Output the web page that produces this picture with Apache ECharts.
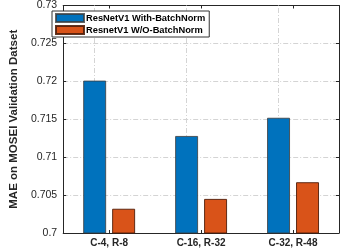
<!DOCTYPE html>
<html><head><meta charset="utf-8">
<script src="https://cdn.jsdelivr.net/npm/echarts@6/dist/echarts.min.js"></script>
<style>html,body{margin:0;padding:0;background:#fff}#c{width:341px;height:250px}</style>
</head><body><div id="c"></div>
<script>
var categories = ['C-4, R-8', 'C-16, R-32', 'C-32, R-48'];
var withBN = [0.7201, 0.7128, 0.7152];
var withoutBN = [0.7032, 0.7045, 0.7067];
var seriesNames = ['ResNetV1 With-BatchNorm', 'ResnetV1 W/O-BatchNorm'];
var yTicks = ['0.7', '0.705', '0.71', '0.715', '0.72', '0.725', '0.73'];
var yMin = 0.7, yMax = 0.73, yStep = 0.005;

var FONT = 'Liberation Sans';
var gridDash = {color: '#d4d4d4', width: 1, type: [5, 2, 1, 2]};
var chart = echarts.init(document.getElementById('c'), null, {renderer: 'canvas'});
chart.setOption({
  animation: false,
  textStyle: {fontFamily: FONT},
  grid: {left: 45, right: 2, top: 4, bottom: 17},
  legend: {
    orient: 'vertical', left: 52, top: 11,
    itemWidth: 28, itemHeight: 8, itemGap: 2,
    padding: [2, 4, 2, 3],
    backgroundColor: '#fff', borderColor: '#333', borderWidth: 1, borderRadius: 0,
    textStyle: {fontFamily: FONT, fontSize: 9.3, color: '#000', fontWeight: 'bold', padding: [0, 0, 0, -3]},
    data: seriesNames.map(function (n) { return {name: n, icon: 'rect'}; })
  },
  xAxis: [{
    type: 'category', data: categories, boundaryGap: true,
    axisLine: {lineStyle: {color: '#262626', width: 1}},
    axisTick: {show: true, inside: true, alignWithLabel: true, length: 3, lineStyle: {color: '#262626'}},
    axisLabel: {color: '#262626', fontSize: 10, fontWeight: 'bold', margin: 5, fontFamily: FONT},
    splitLine: {show: false}
  }, {
    type: 'category', data: categories, position: 'top', boundaryGap: true,
    axisLine: {show: true, lineStyle: {color: '#262626', width: 1}},
    axisTick: {show: true, inside: true, alignWithLabel: true, length: 3, lineStyle: {color: '#262626'}},
    axisLabel: {show: false}, splitLine: {show: false}
  }],
  yAxis: [{
    type: 'value', min: yMin, max: yMax, interval: yStep,
    name: 'MAE on MOSEI Validation Datset', nameLocation: 'middle', nameGap: 31,
    nameTextStyle: {color: '#262626', fontSize: 11.5, fontWeight: 'bold', fontFamily: FONT},
    axisLine: {show: true, lineStyle: {color: '#262626', width: 1}},
    axisTick: {show: true, inside: true, length: 3, lineStyle: {color: '#262626'}},
    axisLabel: {color: '#262626', fontSize: 10.5, margin: 6, fontFamily: FONT,
      formatter: function (v) { var i = Math.round((v - yMin) / yStep); return yTicks[i]; }},
    splitLine: {show: true, lineStyle: gridDash}
  }, {
    type: 'value', min: yMin, max: yMax, interval: yStep, position: 'right',
    axisLine: {show: true, lineStyle: {color: '#262626', width: 1}},
    axisTick: {show: true, inside: true, length: 3, lineStyle: {color: '#262626'}},
    axisLabel: {show: false}, splitLine: {show: false}
  }],
  series: [{
    name: seriesNames[0], type: 'bar', data: withBN,
    barWidth: 23, barGap: '26%',
    itemStyle: {color: '#0072BD', borderColor: 'rgba(60,60,60,0.8)', borderWidth: 1},
    markLine: {
      silent: true, symbol: 'none', z: 1, animation: false,
      label: {show: false},
      lineStyle: gridDash,
      data: categories.map(function (c) { return {xAxis: c}; })
    }
  }, {
    name: seriesNames[1], type: 'bar', data: withoutBN,
    barWidth: 23, barGap: '26%',
    itemStyle: {color: '#D95319', borderColor: 'rgba(80,30,10,0.9)', borderWidth: 1}
  }]
});
</script></body></html>
